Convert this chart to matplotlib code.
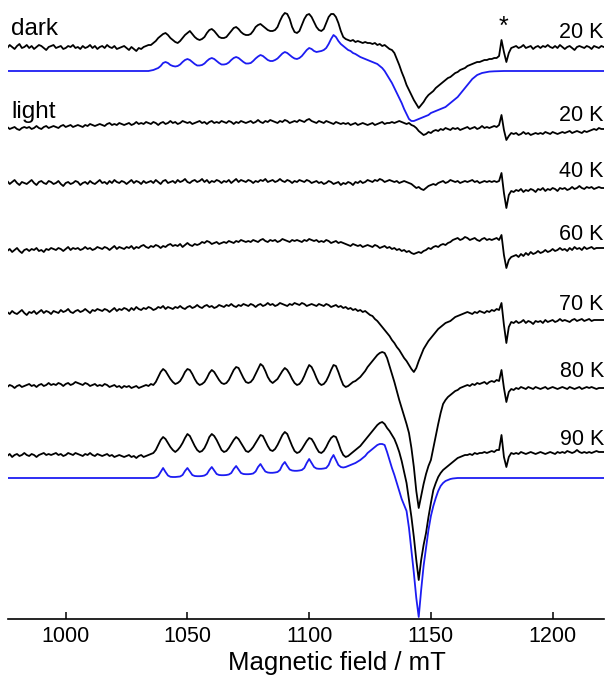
import numpy as np
import matplotlib
matplotlib.use('Agg')
import matplotlib.pyplot as plt

plt.rcParams['font.family'] = ['Liberation Sans', 'DejaVu Sans']

# field axis, 1 mT steps (975 ... 1224 mT)
field = np.arange(975, 1225, 1.0)

# spectra, intensity in arbitrary units (rows = 10 mT)
dark_20K = [
    1, -1, 2, 0, -2, 1, 3, -1, 0, 2,
    -1, 1, -2, 0, 2, 1, -1, -3, 0, 1,
    2, -1, 0, 1, -2, -1, 1, 0, 2, -1,
    0, -2, 1, -1, 0, 2, -1, 1, -2, 0,
    1, -1, 2, 0, -1, 1, -2, -1, 0, 1,
    -1, -3, 0, -2, -4, -1, -2, 0, 1, 2,
    2, 4, 6, 9, 11, 13, 14, 12, 9, 7,
    5, 4, 6, 9, 12, 14, 16, 13, 10, 8,
    7, 8, 10, 14, 17, 18, 16, 13, 10, 9,
    9, 10, 13, 16, 19, 20, 18, 15, 13, 12,
    12, 13, 16, 20, 22, 23, 21, 19, 17, 16,
    16, 17, 20, 26, 31, 34, 33, 28, 20, 15,
    14, 16, 22, 28, 32, 33, 30, 25, 20, 17,
    16, 18, 24, 30, 33, 33, 30, 24, 16, 10,
    8, 7, 6, 7, 5, 6, 5, 4, 5, 4,
    4, 3, 4, 2, 3, 1, 2, 0, -2, -3,
    -6, -12, -18, -25, -31, -38, -43, -48, -53, -57,
    -61, -58, -55, -51, -48, -46, -44, -41, -39, -37,
    -35, -33, -31, -30, -28, -26, -25, -23, -22, -21,
    -19, -18, -17, -16, -15, -15, -14, -13, -13, -12,
    -12, -11, -11, -9, 7, -5, -15, -6, -1, 0,
    1, -1, 0, 2, -1, 0, 1, -2, 0, 1,
    -1, 1, 0, 2, 0, -1, 1, -1, 2, 0,
    -2, 0, 1, -1, -3, 0, 1, 0, -1, 1,
    0, -2, 1, 0, -1, 1, 0, 0, 0, 0,
]

sim_dark = [0] * 60 + [
    0.5, 1, 2, 3, 5, 8, 9, 8, 6, 5,
    4.5, 5, 6.5, 9, 11, 12, 11, 9, 7, 5.5,
    5.5, 6, 7.5, 10, 12, 13, 12, 10, 8, 6.5,
    6.5, 7, 8.5, 11, 13, 14, 13, 11, 9, 7.5,
    7.5, 8, 10, 12.5, 14.5, 16, 15, 13, 11, 10,
    10, 11, 12.5, 15, 17.5, 19, 18, 16, 14, 12.5,
    12, 13, 15, 18, 21, 23, 22, 20, 19, 19.5,
    20, 21, 23, 27, 32, 36, 34, 30, 27, 25,
    23, 21, 20, 18, 17, 15.5, 14, 13, 12, 11,
    10, 9, 8, 7, 5, 3, 0, -4, -8, -12,
    -17, -22, -27, -32, -38, -43, -48, -50, -50, -49,
    -48, -47, -46, -45, -44, -42, -41, -40, -39, -38,
    -37, -36, -34, -32, -30, -28, -26, -23, -20, -17,
    -14, -11, -8, -6, -4, -3, -2, -1.5, -1, -0.6,
    -0.4, -0.3, -0.2, -0.1, 0, 0, 0, 0, 0, 0,
] + [0] * 40

light_20K = [
    0, 1, -1, 0, 1, -1, -2, 0, 1, 0,
    1, -1, 0, 2, 0, -1, 1, 2, 0, 1,
    2, 1, 0, 2, 3, 1, 2, 3, 1, 2,
    3, 2, 1, 3, 2, 4, 3, 2, 3, 4,
    3, 2, 4, 5, 3, 4, 3, 5, 4, 3,
    4, 5, 3, 4, 6, 4, 5, 4, 6, 5,
    4, 6, 5, 3, 5, 6, 4, 5, 7, 5,
    6, 4, 5, 7, 6, 5, 6, 4, 5, 6,
    7, 5, 6, 4, 6, 7, 5, 6, 5, 7,
    6, 5, 7, 6, 4, 6, 5, 7, 6, 5,
    6, 7, 5, 6, 8, 6, 5, 7, 6, 8,
    7, 6, 5, 7, 6, 8, 7, 5, 6, 7,
    6, 8, 7, 6, 8, 9, 7, 6, 5, 7,
    6, 5, 7, 6, 5, 4, 6, 5, 4, 5,
    4, 5, 3, 4, 5, 3, 4, 5, 4, 3,
    4, 5, 3, 4, 5, 6, 4, 5, 5, 6,
    5, 6, 7, 6, 5, 4, 5, 3, 2, 0,
    -3, -5, -7, -6, -4, -5, -3, -2, -3, -1,
    -2, 0, -1, -2, 0, -1, 0, -2, -1, 0,
    1, -1, 0, 1, -1, 0, 2, 0, 1, 0,
    1, 2, 1, 3, 13, -2, -12, -8, -5, -6,
    -5, -7, -6, -4, -6, -5, -7, -6, -5, -6,
    -5, -6, -4, -5, -6, -4, -5, -6, -5, -4,
    -5, -4, -3, -5, -4, -3, -4, -5, -3, -4,
    -3, -2, -1, -2, 0, -1, -1, 0, 0, 0,
]

light_40K = [
    0, 2, -1, 1, 3, 0, -2, 1, 0, -1,
    1, 3, 0, -2, 1, 2, 0, -1, 2, 1,
    -1, 0, 2, -1, -3, 0, 1, -1, 0, 2,
    1, -2, 0, 1, -1, 2, 0, -1, 1, 3,
    0, 1, -1, 2, 0, 3, 1, 0, 2, 1,
    -1, 1, 3, 0, 2, 1, -1, 2, 0, 1,
    2, 0, 3, 1, -1, 2, 3, 0, 1, 2,
    0, 3, 1, 2, 4, 1, 0, 2, 3, 1,
    2, 4, 1, 3, 0, 2, 1, 3, 2, 0,
    2, 1, 3, 0, 2, 4, 1, 3, 2, 1,
    3, 2, 0, 2, 1, 3, 2, 4, 1, 2,
    3, 1, 2, 4, 2, 1, 3, 2, 0, 2,
    1, 3, 2, 1, 3, 2, 0, 1, 2, 0,
    1, -1, 0, 2, 1, -1, 0, 1, -2, 0,
    -1, 1, 0, -2, 1, 0, 2, 0, 1, 3,
    2, 1, 3, 2, 4, 3, 1, 2, 3, 2,
    1, 2, 0, 1, 2, 1, 0, -1, -3, -5,
    -4, -6, -7, -5, -3, -2, -1, -2, 0, 1,
    2, 0, 1, 3, 2, 1, 2, 0, 1, 2,
    1, 2, 3, 1, 2, 0, 1, 2, 1, 2,
    1, 2, 1, 2, 10, -10, -25, -12, -8, -9,
    -7, -8, -6, -9, -7, -8, -6, -7, -9, -6,
    -7, -5, -8, -6, -7, -5, -6, -8, -5, -6,
    -5, -7, -6, -4, -6, -5, -3, -5, -6, -4,
    -5, -4, -6, -5, -4, -5, -5, -5, -5, -5,
]

light_60K = [
    0, -1, 1, -2, 0, 2, -1, -3, 0, 1,
    -1, 1, 0, 2, -1, 0, -2, 1, 0, 2,
    1, 0, 2, 1, -1, 1, 3, 0, 2, 1,
    2, 0, 1, 3, 1, 2, 0, 1, 3, 2,
    1, 3, 2, 0, 2, 4, 1, 3, 2, 1,
    3, 2, 4, 1, 3, 2, 4, 5, 3, 2,
    4, 3, 5, 4, 2, 4, 3, 5, 6, 4,
    5, 4, 6, 3, 5, 7, 5, 4, 6, 5,
    6, 8, 7, 9, 8, 6, 7, 8, 6, 7,
    8, 7, 9, 8, 7, 9, 8, 10, 9, 8,
    9, 8, 10, 9, 8, 10, 11, 9, 8, 10,
    9, 10, 8, 9, 11, 10, 9, 8, 10, 9,
    10, 9, 8, 10, 9, 11, 10, 9, 10, 8,
    9, 8, 10, 9, 7, 8, 9, 7, 8, 7,
    6, 5, 4, 6, 5, 4, 5, 3, 4, 5,
    4, 3, 5, 4, 2, 3, 4, 2, 3, 1,
    2, 0, 1, -1, 0, -2, -1, -3, -4, -3,
    -2, -3, -1, 0, 2, 1, 3, 4, 3, 5,
    6, 5, 7, 8, 10, 11, 12, 10, 11, 13,
    12, 10, 11, 12, 10, 9, 11, 12, 10, 11,
    10, 11, 12, 10, 15, -5, -18, -10, -7, -6,
    -5, -7, -4, -6, -3, -5, -2, -4, -3, -1,
    -3, -2, 0, -2, -1, 1, -1, 0, 2, 0,
    1, -1, 2, 0, 3, 1, 2, 0, 3, 1,
    2, 3, 1, 2, 2, 2, 2, 2, 2, 2,
]

light_70K = [
    0, 1, -1, 2, 0, -1, 1, 3, 0, -2,
    1, 0, 2, -1, 1, 3, 0, 2, 1, -1,
    2, 1, 0, 3, 1, 2, 4, 1, 0, 2,
    3, 1, 2, 4, 2, 0, 3, 2, 4, 3,
    2, 4, 3, 1, 3, 5, 2, 4, 3, 5,
    4, 2, 5, 3, 6, 4, 3, 5, 4, 6,
    5, 3, 4, 6, 5, 7, 4, 6, 5, 4,
    6, 5, 7, 5, 4, 6, 7, 5, 6, 8,
    6, 5, 7, 8, 6, 7, 5, 6, 8, 7,
    6, 8, 7, 9, 7, 6, 8, 7, 9, 8,
    7, 9, 8, 6, 8, 9, 7, 8, 10, 8,
    9, 7, 8, 10, 9, 8, 7, 9, 8, 10,
    9, 8, 10, 9, 7, 8, 9, 8, 7, 9,
    8, 7, 9, 8, 6, 7, 8, 6, 7, 5,
    6, 4, 5, 3, 4, 2, 3, 1, 2, 0,
    -2, -3, -6, -8, -11, -14, -17, -20, -23, -27,
    -30, -34, -37, -41, -45, -48, -52, -56, -59, -55,
    -48, -42, -36, -32, -28, -25, -22, -19, -16, -14,
    -12, -10, -9, -8, -6, -4, -3, -2, -1, 0,
    1, 0, -1, 1, 0, 2, 1, 0, 2, 1,
    3, 2, 4, 3, 10, -12, -30, -14, -9, -10,
    -8, -10, -9, -7, -10, -8, -9, -11, -8, -9,
    -8, -10, -7, -9, -8, -7, -9, -8, -6, -8,
    -7, -8, -9, -7, -6, -8, -7, -6, -8, -7,
    -6, -8, -7, -7, -7, -7, -7, -7, -7, -7,
]

light_80K = [
    0, -1, 1, 0, -2, 0, 1, -1, 0, 1,
    2, 0, 1, -1, 1, 2, 0, 1, 3, 1,
    2, 1, 3, 2, 0, 2, 3, 1, 2, 4,
    3, 2, 1, 3, 2, 0, 1, 2, 0, 1,
    0, 2, 1, -1, 0, 1, -1, 0, -2, 0,
    -1, 0, -2, -1, 0, -2, -1, 0, 1, 0,
    2, 1, 4, 9, 14, 17, 15, 11, 7, 4,
    2, 3, 5, 9, 14, 17, 16, 12, 7, 3,
    1, 2, 4, 8, 13, 16, 14, 10, 6, 3,
    2, 3, 6, 11, 16, 19, 18, 13, 8, 4,
    3, 4, 7, 12, 17, 22, 20, 15, 9, 5,
    3, 5, 7, 11, 15, 18, 16, 12, 7, 3,
    1, 2, 5, 10, 16, 21, 19, 14, 8, 3,
    1, 2, 5, 10, 16, 21, 20, 14, 7, 1,
    -1, 0, 2, 4, 5, 7, 9, 12, 15, 19,
    22, 25, 28, 31, 33, 34, 33, 28, 20, 12,
    4, -5, -14, -22, -30, -38, -47, -62, -81, -105,
    -122, -110, -98, -88, -80, -74, -62, -50, -38, -27,
    -18, -14, -11, -9, -7, -5, -4, -2, -1, 0,
    1, 0, 2, 1, 3, 2, 3, 4, 2, 4,
    5, 4, 6, 5, 16, -2, -16, -6, -3, -4,
    -2, -3, -1, -2, -3, -1, -2, -3, -1, -2,
    -3, -2, -1, -3, -2, -1, -2, -3, -2, -1,
    -2, -3, -1, -2, -3, -2, -1, -3, -2, -1,
    -2, -1, -2, -3, -2, -2, -2, -2, -2, -2,
]

light_90K = [
    0, -1, 1, -2, 0, 1, -1, 0, 2, 0,
    -1, 1, 0, -2, 0, 1, 2, 0, 1, 0,
    1, 2, 0, 1, -1, 0, 2, 1, 0, 2,
    1, 0, -1, 1, 0, 2, 0, -1, 1, 0,
    -1, 0, 1, -1, 0, -2, -1, 0, -1, -2,
    -1, 0, -2, -1, -3, -1, 0, -2, -1, 0,
    1, 2, 5, 10, 15, 18, 16, 12, 8, 5,
    3, 5, 8, 12, 17, 21, 19, 14, 9, 5,
    3, 4, 7, 12, 18, 21, 19, 15, 10, 5,
    3, 4, 7, 11, 15, 18, 16, 12, 8, 4,
    3, 5, 8, 12, 16, 20, 19, 14, 9, 5,
    4, 6, 10, 15, 20, 23, 21, 15, 9, 4,
    2, 3, 6, 10, 14, 17, 16, 12, 7, 3,
    2, 4, 8, 13, 17, 19, 18, 12, 5, 0,
    -2, -1, 1, 3, 5, 7, 9, 12, 15, 18,
    21, 24, 27, 30, 32, 33, 31, 27, 24, 20,
    16, 10, 3, -6, -17, -28, -45, -62, -82, -105,
    -125, -105, -90, -78, -62, -48, -35, -28, -22, -18,
    -15, -13, -11, -9, -7, -5, -3, -2, -1, 0,
    0, 1, 0, 2, 1, 2, 2, 3, 2, 3,
    4, 3, 5, 5, 20, -2, -12, -2, 2, 1,
    2, 1, 3, 2, 1, 2, 3, 2, 1, 2,
    3, 2, 1, 2, 3, 2, 1, 3, 2, 3,
    2, 4, 3, 2, 3, 5, 3, 2, 3, 2,
    3, 2, 3, 4, 3, 3, 3, 3, 3, 3,
]

sim_light = [0] * 60 + [
    0, 0, 0.5, 2, 6, 10, 6, 2.5, 1.2, 1,
    1, 1.2, 1.5, 3, 7, 10, 6.5, 3, 2, 1.8,
    1.8, 2, 2.5, 4, 8, 11, 7.5, 4, 3, 2.8,
    2.8, 3, 3.5, 5, 9, 12, 8.5, 5, 4, 3.8,
    3.8, 4, 4.5, 6.5, 11, 14, 10, 6.5, 5.5, 5.2,
    5.2, 5.5, 6, 8, 13, 16, 12, 8.5, 7.5, 7.2,
    7.2, 7.5, 8, 10, 15, 19, 15, 11, 9.5, 9.2,
    9.2, 9.5, 10, 13, 19, 23, 18, 13, 11, 10.5,
    11, 12, 13, 14, 15, 16.5, 18, 20, 22, 25,
    27, 29, 31, 33, 34, 34, 33, 26, 18, 10,
    3, -5, -13, -21, -27, -33, -50, -72, -95, -120,
    -139, -112, -88, -70, -52, -38, -28, -20, -13, -8,
    -5, -3, -2, -1, -0.5, -0.2, 0, 0, 0, 0,
] + [0] * 60

# (spectrum, colour, vertical offset, temperature label, label height)
traces = [
    (dark_20K, 'k', 572, '20 K', 581),
    (sim_dark, 'b', 548, None, None),
    (light_20K, 'k', 491, '20 K', 498),
    (light_40K, 'k', 436, '40 K', 442),
    (light_60K, 'k', 369, '60 K', 379),
    (light_70K, 'k', 306, '70 K', 309),
    (light_80K, 'k', 233, '80 K', 242),
    (light_90K, 'k', 164, '90 K', 174),
    (sim_light, 'b', 141, None, None),
]
blue = '#1c1cf2'

fig = plt.figure(figsize=(6.08, 6.75), dpi=100)
ax = fig.add_axes([8 / 608, 56 / 675, 596 / 608, 619 / 675])

for spec, col, off, lab, ylab in traces:
    ax.plot(field, np.array(spec, float) + off,
            color=blue if col == 'b' else 'black', lw=1.3)
    if lab:
        ax.text(1221, ylab, lab, ha='right', va='baseline', fontsize=15.5)

ax.text(977.5, 584, 'dark', ha='left', va='baseline', fontsize=17.5)
ax.text(977.5, 501, 'light', ha='left', va='baseline', fontsize=17.5)
ax.text(1180, 585, '*', ha='center', va='baseline', fontsize=18)

ax.set_xlim(976.3, 1221.1)
ax.set_ylim(0, 619)
for s in ['left', 'right', 'top']:
    ax.spines[s].set_visible(False)
ax.spines['bottom'].set_linewidth(1.2)
ax.set_yticks([])
ax.set_xticks([1000, 1050, 1100, 1150, 1200])
ax.tick_params(axis='x', direction='in', length=5, width=1.1,
               labelsize=15.5, pad=5)
ax.set_xlabel('Magnetic field / mT', fontsize=18.5, labelpad=3, x=0.552)

fig.savefig('out.png', dpi=100)
